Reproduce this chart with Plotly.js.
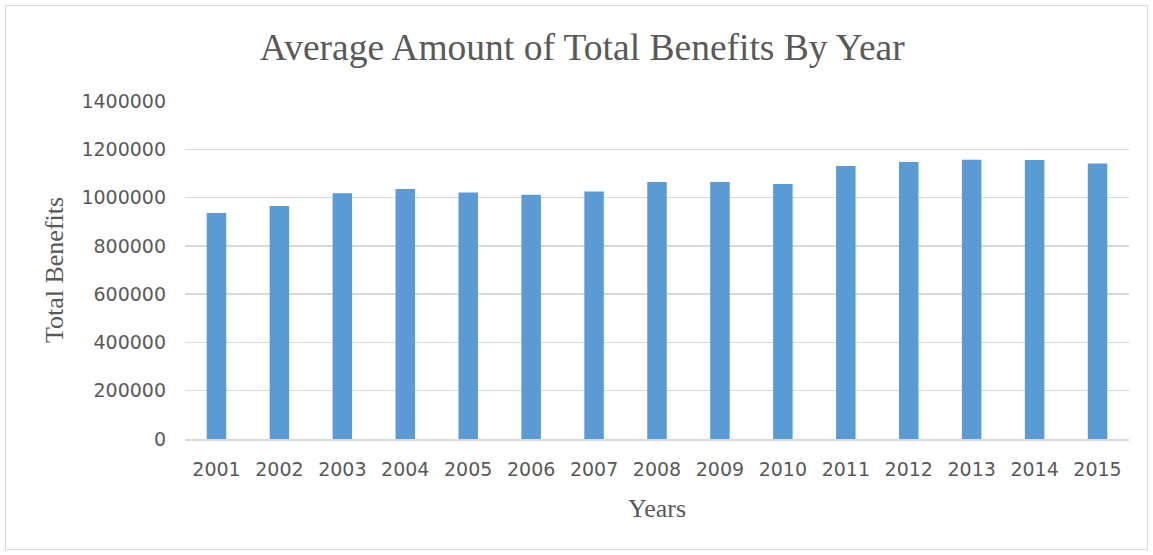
<!DOCTYPE html>
<html>
<head>
<meta charset="utf-8">
<script src="https://cdn.plot.ly/plotly-3.0.1.min.js"></script>
<style>
  html, body { margin: 0; padding: 0; background: #ffffff; }
  #wrap { position: relative; width: 1153px; height: 555px; }
  #chart { position: absolute; left: 0; top: 0; width: 1153px; height: 555px; }
  #frame { position: absolute; left: 5px; top: 5px; width: 1141px; height: 543px; border: 1px solid #d9d9d9; pointer-events: none; }
</style>
</head>
<body>
<div id="wrap">
  <div id="chart"></div>
  <div id="frame"></div>
</div>
<script>
const years = ['2001','2002','2003','2004','2005','2006','2007','2008','2009','2010','2011','2012','2013','2014','2015'];
const totalBenefits = [936000, 965000, 1018000, 1036000, 1021000, 1012000, 1025000, 1065000, 1065000, 1056000, 1131000, 1147000, 1157000, 1156000, 1141000];
const yTicks = [0, 200000, 400000, 600000, 800000, 1000000, 1200000, 1400000];
const chartTitle = 'Average Amount of Total Benefits By Year';
const xTitle = 'Years';
const yTitle = 'Total Benefits';

const trace = {
  type: 'bar',
  x: years,
  y: totalBenefits,
  marker: { color: '#5B9BD5' },
  hoverinfo: 'x+y'
};

const layout = {
  width: 1153,
  height: 555,
  paper_bgcolor: '#ffffff',
  plot_bgcolor: '#ffffff',
  margin: { l: 185, r: 24, t: 101, b: 116 },
  showlegend: false,
  bargap: 0.69,
  title: {
    text: chartTitle,
    font: { family: 'Liberation Serif, Times New Roman, serif', size: 37.5, color: '#595959' },
    x: 0.505,
    xanchor: 'center',
    yref: 'container',
    y: 0.915,
    yanchor: 'middle'
  },
  xaxis: {
    type: 'category',
    tickvals: years,
    ticktext: years,
    showgrid: false,
    showline: true,
    linecolor: '#d9d9d9',
    linewidth: 1.5,
    ticks: '',
    tickfont: { family: 'DejaVu Sans, sans-serif', size: 19, color: '#595959' },
    ticklabelstandoff: 13,
    title: {
      text: xTitle,
      font: { family: 'Liberation Serif, Times New Roman, serif', size: 26, color: '#595959' },
      standoff: 19
    },
    automargin: false
  },
  yaxis: {
    range: [0, 1400000],
    tickvals: yTicks,
    ticktext: yTicks.map(String),
    showgrid: true,
    gridcolor: '#d9d9d9',
    gridwidth: 1.3,
    zeroline: false,
    showline: false,
    ticks: '',
    tickfont: { family: 'DejaVu Sans, sans-serif', size: 19, color: '#595959' },
    ticklabelstandoff: 18,
    title: {
      text: yTitle,
      font: { family: 'Liberation Serif, Times New Roman, serif', size: 26, color: '#595959' },
      standoff: 10
    },
    automargin: false
  }
};

Plotly.newPlot('chart', [trace], layout, { displayModeBar: false, staticPlot: true });
</script>
</body>
</html>
